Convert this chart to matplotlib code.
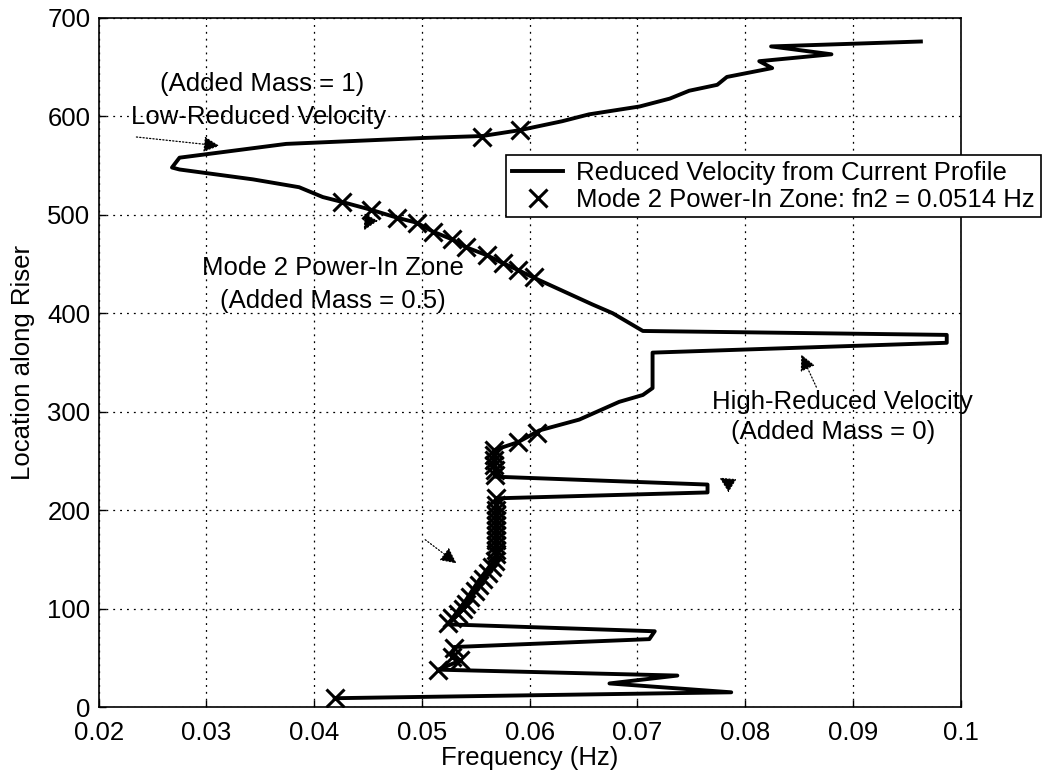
import matplotlib
matplotlib.use('Agg')
import matplotlib.pyplot as plt

plt.rcParams['font.family'] = ['Liberation Sans', 'DejaVu Sans']
plt.rcParams['font.size'] = 18.5

# Reduced velocity curve, in drawing order (frequency Hz, location along riser)
line_freq = [0.0419, 0.0787, 0.0674, 0.0737, 0.0515, 0.0535, 0.0528, 0.0530,
             0.0711, 0.0716, 0.0524, 0.0541, 0.0553, 0.0569, 0.0569, 0.0765,
             0.0765, 0.0568, 0.0567, 0.0589, 0.0609, 0.0646, 0.0683, 0.0705,
             0.0714, 0.0714, 0.0987, 0.0987, 0.0705, 0.0677, 0.0658, 0.0604,
             0.0589, 0.0575, 0.0560, 0.0541, 0.0528, 0.0510, 0.0495, 0.0477,
             0.0453, 0.0426, 0.0408, 0.0386, 0.0343, 0.0275, 0.0268, 0.0275,
             0.0374, 0.0501, 0.0556, 0.0591, 0.0630, 0.0655, 0.0702, 0.0730,
             0.0748, 0.0774, 0.0783, 0.0825, 0.0813, 0.0880, 0.0824, 0.0963]
line_loc = [9, 15, 24, 32, 38, 47, 53, 61,
            69, 77, 84, 109, 129, 152, 212, 218,
            226, 234, 261, 269, 281, 292, 310, 317,
            324, 360, 370, 378, 382, 400, 409, 436,
            444, 451, 459, 467, 475, 483, 492, 497,
            505, 513, 518, 528, 536, 546, 548, 558,
            572, 578, 580, 586, 595, 602, 610, 618,
            626, 632, 640, 649, 656, 663, 671, 676]

# Mode 2 power-in zone points
zone_freq = [0.0419, 0.0515, 0.0535, 0.0528, 0.0530,
             0.0524, 0.0528, 0.0533, 0.0538, 0.0541, 0.0545, 0.0549, 0.0553,
             0.0557, 0.0561, 0.0565, 0.0568,
             0.0569, 0.0569, 0.0569, 0.0569, 0.0569, 0.0569, 0.0569, 0.0569,
             0.0569, 0.0569, 0.0569, 0.0569,
             0.0568, 0.0568, 0.0567, 0.0567, 0.0567, 0.0567,
             0.0589, 0.0607,
             0.0604, 0.0589, 0.0575, 0.0560, 0.0541, 0.0528, 0.0510, 0.0495,
             0.0477, 0.0453, 0.0426,
             0.0556, 0.0591]
zone_loc = [9, 38, 48, 51, 60,
            85, 90, 95, 100, 105, 112, 118, 124,
            130, 136, 142, 148,
            155, 160, 165, 170, 175, 180, 185, 190,
            195, 200, 205, 212,
            236, 241, 246, 251, 256, 261,
            269, 278,
            437, 444, 451, 459, 467, 475, 483, 492,
            497, 505, 513,
            579, 586]

xticks = [0.02, 0.03, 0.04, 0.05, 0.06, 0.07, 0.08, 0.09, 0.1]
xtick_labels = ['0.02', '0.03', '0.04', '0.05', '0.06', '0.07', '0.08', '0.09', '0.1']
yticks = [0, 100, 200, 300, 400, 500, 600, 700]

fig = plt.figure(figsize=(10.5, 7.77), dpi=100)
ax = fig.add_axes([0.094, 0.090, 0.821, 0.887])

ax.plot(line_freq, line_loc, '-', color='black', lw=2.8,
        label='Reduced Velocity from Current Profile', zorder=3)
ax.plot(zone_freq, zone_loc, 'x', color='black', ms=13, mew=2.2,
        label='Mode 2 Power-In Zone: fn2 = 0.0514 Hz', zorder=4)

ax.set_xlim(0.02, 0.1)
ax.set_ylim(0, 700)
ax.set_xticks(xticks)
ax.set_xticklabels(xtick_labels)
ax.set_yticks(yticks)
ax.tick_params(direction='in', length=5, width=1, colors='black', labelsize=18.5)
ax.tick_params(axis='x', pad=10)
ax.tick_params(axis='y', pad=6)
ax.grid(True, linestyle=(0, (1.5, 4)), color='black', lw=0.9)
for s in ax.spines.values():
    s.set_linewidth(1.2)
    s.set_color('black')

ax.set_xlabel('Frequency (Hz)', fontsize=18.5, labelpad=1)
ax.set_ylabel('Location along Riser', fontsize=18.5, labelpad=9)

leg = ax.legend(loc='upper left', bbox_to_anchor=(0.473, 0.801), borderaxespad=0,
                fontsize=18.5, frameon=True, fancybox=False, edgecolor='black',
                framealpha=1, handlelength=2.0, handletextpad=0.5,
                labelspacing=0.12, borderpad=0.22)
leg.get_frame().set_linewidth(1.2)

# Annotations
ax.text(0.0352, 633, '(Added Mass = 1)', ha='center', va='center', fontsize=18.5)
ax.text(0.0348, 599, 'Low-Reduced Velocity', ha='center', va='center', fontsize=18.5)
ax.text(0.0417, 446, 'Mode 2 Power-In Zone', ha='center', va='center', fontsize=18.5)
ax.text(0.0417, 412, '(Added Mass = 0.5)', ha='center', va='center', fontsize=18.5)
ax.text(0.0890, 310, 'High-Reduced Velocity', ha='center', va='center', fontsize=18.5)
ax.text(0.0882, 279, '(Added Mass = 0)', ha='center', va='center', fontsize=18.5)

arrow_style = dict(arrowstyle='-|>', linestyle=':', lw=0.9, color='black',
                   mutation_scale=24, shrinkA=0, shrinkB=0)
ax.annotate('', xy=(0.0312, 570), xytext=(0.0235, 579), arrowprops=arrow_style)
ax.annotate('', xy=(0.0532, 146), xytext=(0.0503, 170), arrowprops=arrow_style)
ax.annotate('', xy=(0.0852, 358), xytext=(0.0866, 325), arrowprops=arrow_style)
ax.annotate('', xy=(0.0446, 484), xytext=(0.0449, 490), arrowprops=arrow_style)
ax.annotate('', xy=(0.0776, 233), xytext=(0.0782, 229), arrowprops=arrow_style)

fig.savefig('out.png', dpi=100)
